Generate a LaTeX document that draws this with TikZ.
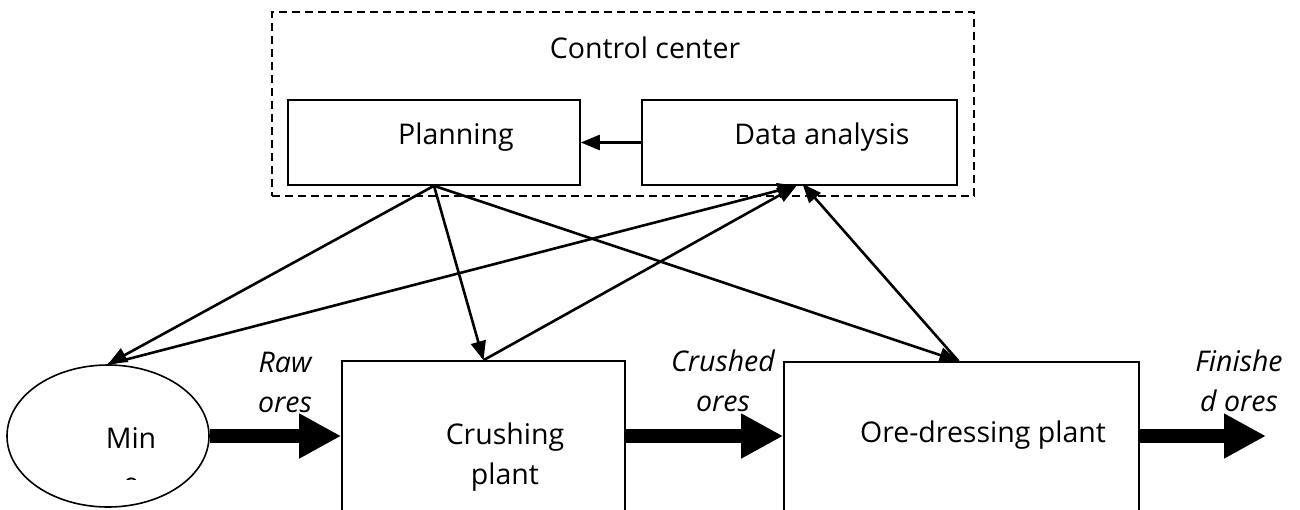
\documentclass[tikz,border=0pt]{standalone}
\usepackage{fontspec}
\setmainfont{Open Sans}
\usetikzlibrary{arrows.meta,shapes.geometric}
\begin{document}
\begin{tikzpicture}[x=1pt,y=-1pt,
  every node/.style={font=\fontsize{28.5}{40}\selectfont, inner sep=0pt},
  box/.style={draw, line width=1.6pt, rectangle},
  lbl/.style={font=\fontsize{28.5}{40}\selectfont\itshape},
  txt/.style={},
  ctrl/.style={line width=2.6pt, -{Triangle[length=19pt,width=15pt]}},
  fat/.style={line width=14pt, -{Triangle[length=42pt,width=42pt]}}
]
\useasboundingbox (0,0) rectangle (1300,509);
\clip (0,0) rectangle (1300,509);
% control center
\node[draw, dashed, line width=1.6pt, dash pattern=on 8pt off 5pt, minimum width=702pt, minimum height=184pt] (cc) at (623,104) {};
\node[txt] (cctxt) at (645,48) {Control center};
\node[box, minimum width=292pt, minimum height=85pt] (plan) at (434,142.5) {};
\node[txt] (plantxt) at (456,137) {Planning};
\node[box, minimum width=315pt, minimum height=85pt] (data) at (799.5,142.5) {};
\node[txt] (datatxt) at (822,137) {Data analysis};
% bottom row
\node[draw, ellipse, line width=1.6pt, minimum width=202pt, minimum height=142pt] (mine) at (108,436) {};
\node[txt] (minetxt) at (131,438) {Min};
\begin{scope}
\clip (100,470) rectangle (160,479);
\node[txt] (minee) at (131,486) {e};
\end{scope}
\node[box, minimum width=283pt, minimum height=199pt] (crush) at (483.5,460.5) {};
\node[txt, align=center] (crushtxt) at (505,457) {Crushing\\plant};
\node[box, minimum width=355pt, minimum height=198pt] (ore) at (961.5,461) {};
\node[txt] (oretxt) at (983,435) {Ore-dressing plant};
\coordinate (out) at (1266,436);
% thick flow arrows
\draw[fat] (mine.east) -- (crush.west |- mine.east);
\draw[fat] (crush.east |- mine.east) -- (ore.west |- mine.east);
\draw[fat] (ore.east |- mine.east) -- (out);
% flow labels
\node[lbl, align=center] (raw) at (285,382) {Raw\\ores};
\node[lbl, align=center] (crushed) at (723,381) {Crushed\\ores};
\node[lbl, align=center] (fin) at (1239,381) {Finishe\\d ores};
% control arrows
\draw[ctrl] (data.west) -- (plan.east);
\draw[ctrl] (plan.south) -- (mine.north);
\draw[ctrl] (plan.south) -- (crush.north);
\draw[ctrl] (plan.south) -- ([xshift=-3pt]ore.north);
\draw[ctrl] (mine.north) -- ([xshift=-3pt]data.south);
\draw[ctrl] (crush.north) -- ([xshift=-3pt]data.south);
\draw[ctrl] ([xshift=-3pt]ore.north) -- ([xshift=3pt,yshift=2pt]data.south);
\end{tikzpicture}
\end{document}
